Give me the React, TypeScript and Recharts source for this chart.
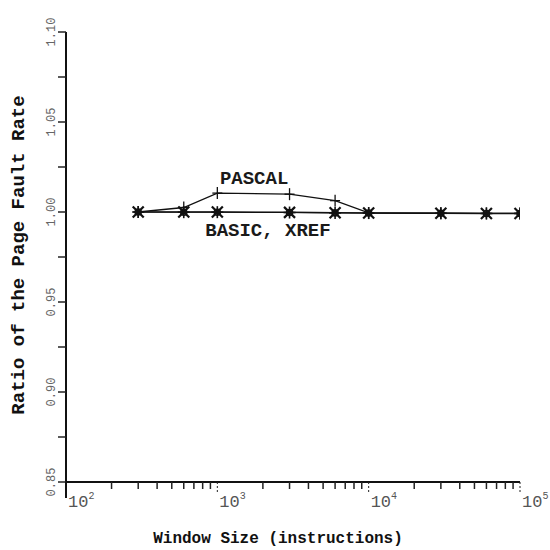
import { LineChart, Line, XAxis, YAxis, ReferenceDot, Label } from "recharts";

const windowSizes = [300, 600, 1000, 3000, 6000, 10000, 30000, 60000, 100000];
const pascal = [1.0, 1.0025, 1.0105, 1.0099, 1.0063, 0.9995, 0.9993, 0.9992, 0.9992];
const basic = [1.0, 1.0, 1.0, 0.9998, 0.9996, 0.9994, 0.9993, 0.9992, 0.9992];
const xref = [1.0, 0.9999, 0.9999, 0.9997, 0.9995, 0.9994, 0.9993, 0.9992, 0.9992];

const xTicks = [
  100, 200, 300, 400, 500, 600, 700, 800, 900,
  1000, 2000, 3000, 4000, 5000, 6000, 7000, 8000, 9000,
  10000, 20000, 30000, 40000, 50000, 60000, 70000, 80000, 90000,
  100000,
];
const xMajor = [100, 1000, 10000, 100000];
const xExponents = ["2", "3", "4", "5"];

const yTicks = [0.85, 0.875, 0.9, 0.925, 0.95, 0.975, 1.0, 1.025, 1.05, 1.075, 1.1];
const yMajor = [0.85, 0.9, 0.95, 1.0, 1.05, 1.1];
const yLabels = ["0.85", "0.90", "0.95", "1.00", "1.05", "1.10"];

const data = windowSizes.map((w, i) => ({
  w,
  pascal: pascal[i],
  basic: basic[i],
  xref: xref[i],
}));

const mono = "'Liberation Mono', 'DejaVu Sans Mono', monospace";

const XTick = (props: any) => {
  const { x, y, payload } = props;
  const i = xMajor.indexOf(payload.value);
  const major = i >= 0;
  return (
    <g>
      <line x1={x} y1={y} x2={x} y2={y + (major ? 12 : 7)} stroke="#222" strokeWidth={major ? 1 : 1.5} strokeDasharray={major && i > 0 ? "2 2" : undefined} />
      {major && (
        <text x={x + 2} y={y + 25} fontFamily={mono} fontSize={17} fill="#555">
          10
          <tspan dy={-8} fontSize={10}>{xExponents[i]}</tspan>
        </text>
      )}
    </g>
  );
};

const YTick = (props: any) => {
  const { x, y, payload } = props;
  const i = yMajor.indexOf(payload.value);
  return (
    <g>
      <line x1={x - 8} y1={y} x2={x} y2={y} stroke="#222" strokeWidth={1.5} />
      {payload.value === 0.85 && <line x1={x} y1={y} x2={x} y2={y + 16} stroke="#111" strokeWidth={2} />}
      {i >= 0 && (
        <text
          x={x - 11}
          y={y}
          transform={`rotate(-90 ${x - 11} ${y})`}
          textAnchor="middle"
          fontFamily={mono}
          fontSize={12}
          fill="#666"
        >
          {yLabels[i]}
        </text>
      )}
    </g>
  );
};

const PlusDot = (props: any) => {
  const { cx, cy } = props;
  return (
    <g stroke="#111" strokeWidth={1.3}>
      <line x1={cx - 5} y1={cy} x2={cx + 5} y2={cy} />
      <line x1={cx} y1={cy - 6} x2={cx} y2={cy + 6} />
    </g>
  );
};

const CrossDot = (props: any) => {
  const { cx, cy } = props;
  return (
    <g stroke="#111" strokeWidth={2.2}>
      <line x1={cx - 5.5} y1={cy - 5.5} x2={cx + 5.5} y2={cy + 5.5} />
      <line x1={cx - 5.5} y1={cy + 5.5} x2={cx + 5.5} y2={cy - 5.5} />
    </g>
  );
};

const StarDot = (props: any) => {
  const { cx, cy } = props;
  return (
    <g stroke="#111" strokeWidth={1.6}>
      <line x1={cx} y1={cy - 6} x2={cx} y2={cy + 6} />
      <line x1={cx - 6} y1={cy} x2={cx + 6} y2={cy} />
      <circle cx={cx} cy={cy} r={3} fill="none" />
    </g>
  );
};

const textLabel = (value: string) => (p: any) => {
  const { viewBox } = p;
  return (
    <text
      x={viewBox.x}
      y={viewBox.y}
      textAnchor="middle"
      fontFamily={mono}
      fontSize={19}
      fontWeight="bold"
      fill="#1a1a1a"
    >
      {value}
    </text>
  );
};

export default function App() {
  return (
    <div style={{ position: "absolute", left: 0, top: 0, background: "#fff" }}>
      <LineChart
        width={550}
        height={550}
        data={data}
        margin={{ top: 32, right: 30, bottom: 28, left: 20 }}
      >
        <XAxis
          dataKey="w"
          type="number"
          scale="log"
          domain={[100, 100000]}
          ticks={xTicks}
          interval={0}
          tickSize={0}
          tickMargin={0}
          tick={<XTick />}
          height={40}
          axisLine={{ stroke: "#111", strokeWidth: 2 }}
          allowDataOverflow
        >
          <Label
            content={() => (
              <text
                x={278}
                y={543}
                textAnchor="middle"
                fontFamily={mono}
                fontSize={16}
                fontWeight="bold"
                fill="#111"
              >
                Window Size (instructions)
              </text>
            )}
          />
        </XAxis>
        <YAxis
          type="number"
          domain={[0.85, 1.1]}
          ticks={yTicks}
          interval={0}
          tickSize={0}
          tickMargin={0}
          tick={<YTick />}
          width={46}
          axisLine={{ stroke: "#111", strokeWidth: 2 }}
          allowDataOverflow
        >
          <Label
            content={() => (
              <text
                x={24}
                y={255}
                transform="rotate(-90 24 255)"
                textAnchor="middle"
                fontFamily={mono}
                fontSize={19}
                fontWeight="bold"
                fill="#111"
              >
                Ratio of the Page Fault Rate
              </text>
            )}
          />
        </YAxis>
        <Line
          dataKey="pascal"
          stroke="#111"
          strokeWidth={1.3}
          dot={<PlusDot />}
          isAnimationActive={false}
        />
        <Line
          dataKey="basic"
          stroke="#111"
          strokeWidth={1.5}
          dot={<CrossDot />}
          isAnimationActive={false}
        />
        <Line
          dataKey="xref"
          stroke="#111"
          strokeWidth={1}
          dot={<StarDot />}
          isAnimationActive={false}
        />
        <ReferenceDot x={1750} y={1.0156} r={0} ifOverflow="visible">
          <Label content={textLabel("PASCAL")} />
        </ReferenceDot>
        <ReferenceDot x={2160} y={0.9867} r={0} ifOverflow="visible">
          <Label content={textLabel("BASIC, XREF")} />
        </ReferenceDot>
      </LineChart>
    </div>
  );
}
